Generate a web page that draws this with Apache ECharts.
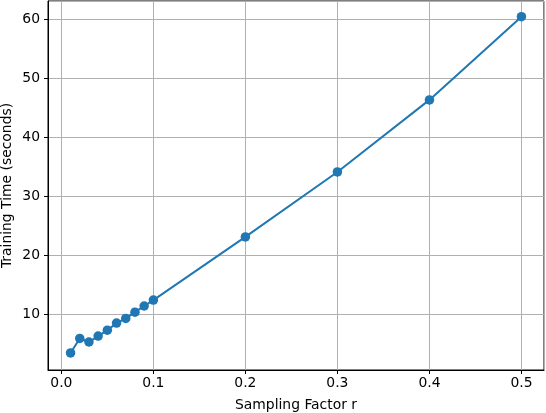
<!DOCTYPE html>
<html>
<head>
<meta charset="utf-8">
<script src="https://cdn.jsdelivr.net/npm/echarts@6/dist/echarts.min.js"></script>
<style>
  html, body { margin: 0; padding: 0; background: #fff; }
  #chart { width: 546px; height: 413px; }
</style>
</head>
<body>
<div id="chart"></div>
<script>
// sampling factor r vs training time
const samplingFactors = [0.01, 0.02, 0.03, 0.04, 0.05, 0.06, 0.07, 0.08, 0.09, 0.1, 0.2, 0.3, 0.4, 0.5];
const trainingTimes = [3.45, 5.9, 5.3, 6.3, 7.3, 8.5, 9.3, 10.35, 11.4, 12.4, 23.1, 34.1, 46.3, 60.4];

const xTitle = 'Sampling Factor r';
const yTitle = 'Training Time (seconds)';

const fontFamily = 'DejaVu Sans';
const fontSize = 13.9;

const myChart = echarts.init(document.getElementById('chart'));
const option = {
  animation: false,
  grid: {
    left: 48,
    right: 2,
    top: 1,
    bottom: 43,
    containLabel: false,
    outerBoundsMode: 'none',
    show: true,
    borderColor: '#000',
    borderWidth: 1
  },
  xAxis: {
    type: 'value',
    min: -0.0145,
    max: 0.5245,
    name: xTitle,
    nameLocation: 'middle',
    nameGap: 28,
    nameMoveOverlap: false,
    nameTextStyle: { fontFamily: fontFamily, fontSize: fontSize, color: '#000' },
    axisLine: { show: true, onZero: false, lineStyle: { color: '#000', width: 1 } },
    axisTick: { show: true, length: 4, lineStyle: { color: '#000' } },
    axisLabel: {
      showMinLabel: false,
      showMaxLabel: false,
      margin: 6,
      fontFamily: fontFamily,
      fontSize: fontSize,
      color: '#000',
      formatter: v => v.toFixed(1)
    },
    splitLine: { show: true, lineStyle: { color: '#b0b0b0', width: 1 } }
  },
  yAxis: {
    type: 'value',
    min: 0.56,
    max: 63.05,
    name: yTitle,
    nameLocation: 'middle',
    nameGap: 34,
    nameMoveOverlap: false,
    nameTextStyle: { fontFamily: fontFamily, fontSize: fontSize, color: '#000' },
    axisLine: { show: true, onZero: false, lineStyle: { color: '#000', width: 1 } },
    axisTick: { show: true, length: 4, lineStyle: { color: '#000' } },
    axisLabel: {
      showMinLabel: false,
      showMaxLabel: false,
      margin: 8,
      fontFamily: fontFamily,
      fontSize: fontSize,
      color: '#000'
    },
    splitLine: { show: true, lineStyle: { color: '#b0b0b0', width: 1 } }
  },
  series: [
    {
      type: 'line',
      data: samplingFactors.map((r, i) => [r, trainingTimes[i]]),
      symbol: 'circle',
      symbolSize: 9.5,
      showAllSymbol: true,
      itemStyle: { color: '#1f77b4' },
      lineStyle: { color: '#1f77b4', width: 2 }
    }
  ]
};
myChart.setOption(option);
</script>
</body>
</html>
